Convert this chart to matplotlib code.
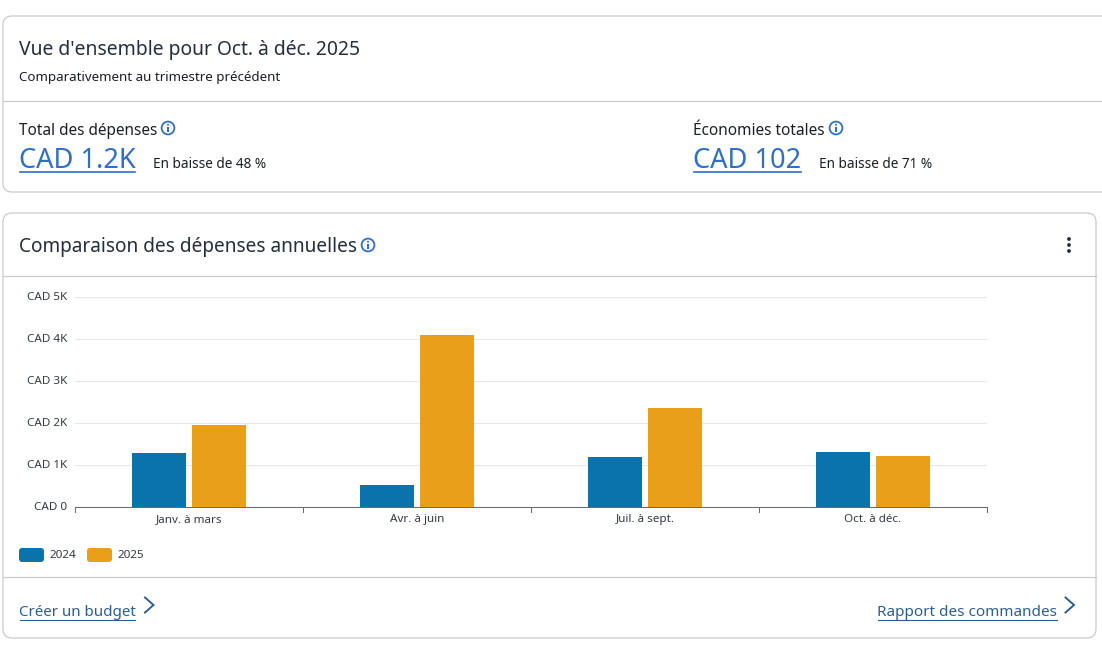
import matplotlib
matplotlib.use("Agg")
import matplotlib.pyplot as plt
from matplotlib.patches import FancyBboxPatch, Rectangle, Circle
from matplotlib.transforms import ScaledTranslation
import numpy as np

plt.rcParams["font.family"] = ["Noto Sans", "DejaVu Sans"]

W, H = 1102, 647

quarters = ["Janv. à mars", "Avr. à juin", "Juil. à sept.", "Oct. à déc."]
spend_2024 = [1290, 520, 1200, 1310]
spend_2025 = [1950, 4100, 2360, 1220]
y_ticks = [0, 1000, 2000, 3000, 4000, 5000]
y_labels = ["CAD 0", "CAD 1K", "CAD 2K", "CAD 3K", "CAD 4K", "CAD 5K"]
series_names = ["2024", "2025"]

DARK = "#1a1f24"
TITLE = "#232f3e"
BLUE = "#2f6fc4"
LINK = "#2b5f8f"
LINE = "#c8c8c8"
COL_2024 = "#0a73ab"
COL_2025 = "#ea9f1b"

fig = plt.figure(figsize=(W / 100, H / 100), dpi=100, facecolor="white")

# fond en pixels pour les cartes
bg = fig.add_axes([0, 0, 1, 1])
bg.set_xlim(0, W)
bg.set_ylim(H, 0)
bg.axis("off")


def card(x0, y0, x1, y1):
    bg.add_patch(FancyBboxPatch((x0, y0), x1 - x0, y1 - y0,
                                boxstyle="round,pad=0,rounding_size=9",
                                fc="white", ec=LINE, lw=0.85))


def info_icon(x, y):
    bg.add_patch(Circle((x, y), 6.4, fc="white", ec=BLUE, lw=1.3))
    bg.add_patch(Rectangle((x - 0.8, y - 1.3), 1.6, 5, fc=BLUE, ec="none"))
    bg.add_patch(Circle((x, y - 3.3), 1.0, fc=BLUE, ec="none"))


def chevron(x, y):
    bg.plot([x, x + 8.5, x], [y - 7.5, y, y + 7.5], color=LINK, lw=1.4, solid_joinstyle="miter")


def underlined(x, y, s, size, color, uy, lw=0.8):
    t = bg.text(x, y, s, fontsize=size, color=color, va="center", ha="left")
    fig.canvas.draw()
    bb = t.get_window_extent()
    bg.plot([bb.x0 + 0.5, bb.x1 - 0.5], [uy, uy], color=color, lw=lw)
    return bb


card(3, 16, 1120, 192)
bg.plot([3, 1102], [101, 101], color=LINE, lw=0.85)
card(3, 213, 1096, 638)
bg.plot([3, 1096], [276, 276], color=LINE, lw=0.85)
bg.plot([3, 1096], [577, 577], color=LINE, lw=0.85)

bg.text(19, 49.5, "Vue d'ensemble pour Oct. à déc. 2025", fontsize=13.9, color=TITLE, va="center")
bg.text(19, 77.5, "Comparativement au trimestre précédent", fontsize=9.6, color=DARK, va="center")

bg.text(19, 131, "Total des dépenses", fontsize=11.05, color=DARK, va="center")
info_icon(168, 128)
underlined(19, 161, "CAD 1.2K", 19.6, BLUE, 171.5, 1.2)
bg.text(153, 164.5, "En baisse de 48 %", fontsize=9.8, color=DARK, va="center")

bg.text(693, 131, "Économies totales", fontsize=11.05, color=DARK, va="center")
info_icon(836, 128)
underlined(693, 161, "CAD 102", 19.6, BLUE, 171.5, 1.2)
bg.text(819, 164.5, "En baisse de 71 %", fontsize=9.8, color=DARK, va="center")

bg.text(19, 247, "Comparaison des dépenses annuelles", fontsize=13.7, color=TITLE, va="center")
info_icon(368, 245)
for yy in [239, 245, 251]:
    bg.add_patch(Circle((1069, yy), 1.9, fc="#232f3e", ec="none"))

underlined(19, 612.5, "Créer un budget", 10.9, LINK, 619.5)
chevron(145, 605)
underlined(877, 612.5, "Rapport des commandes", 11.0, LINK, 619.5)
chevron(1065.5, 605)

# graphique
ax = fig.add_axes([75 / W, 1 - 507 / H, (987 - 75) / W, (507 - 297) / H])
ax.patch.set_alpha(0)
x = np.arange(len(quarters))
bar_w = 0.238
gap = 0.131
ax.bar(x - gap, spend_2024, bar_w, color=COL_2024, zorder=3)
ax.bar(x + gap, spend_2025, bar_w, color=COL_2025, zorder=3)

ax.set_xlim(-0.5, 3.5)
ax.set_ylim(0, 5000)
ax.set_yticks(y_ticks)
ax.set_yticklabels(y_labels, fontsize=8.4, color="#333b45")
ax.set_xticks(x)
ax.set_xticklabels(quarters, fontsize=8.4, color="#333b45")
ax.tick_params(axis="x", length=0, pad=5)
ax.tick_params(axis="y", length=0, pad=5.5)
up = ScaledTranslation(0, 1.5 / 100, fig.dpi_scale_trans)
for lab in ax.get_yticklabels():
    lab.set_transform(lab.get_transform() + up)
for e in [-0.5, 0.5, 1.5, 2.5, 3.5]:
    ax.plot([e, e], [0, -0.022], color="#666c73", lw=0.75, clip_on=False,
            transform=ax.get_xaxis_transform())
ax.grid(axis="y", color="#e6e8e8", lw=0.75, zorder=0)
ax.set_axisbelow(True)
for s in ["top", "right", "left"]:
    ax.spines[s].set_visible(False)
ax.spines["bottom"].set_color("#666c73")
ax.spines["bottom"].set_linewidth(0.75)

# légende
for lx, col, name in zip([19, 87], [COL_2024, COL_2025], series_names):
    bg.add_patch(FancyBboxPatch((lx, 548), 25, 14, boxstyle="round,pad=0,rounding_size=3",
                                fc=col, ec="none"))
    bg.text(lx + 30, 555, name, fontsize=8.4, color="#333b45", va="center")

fig.savefig("out.png", dpi=100)
